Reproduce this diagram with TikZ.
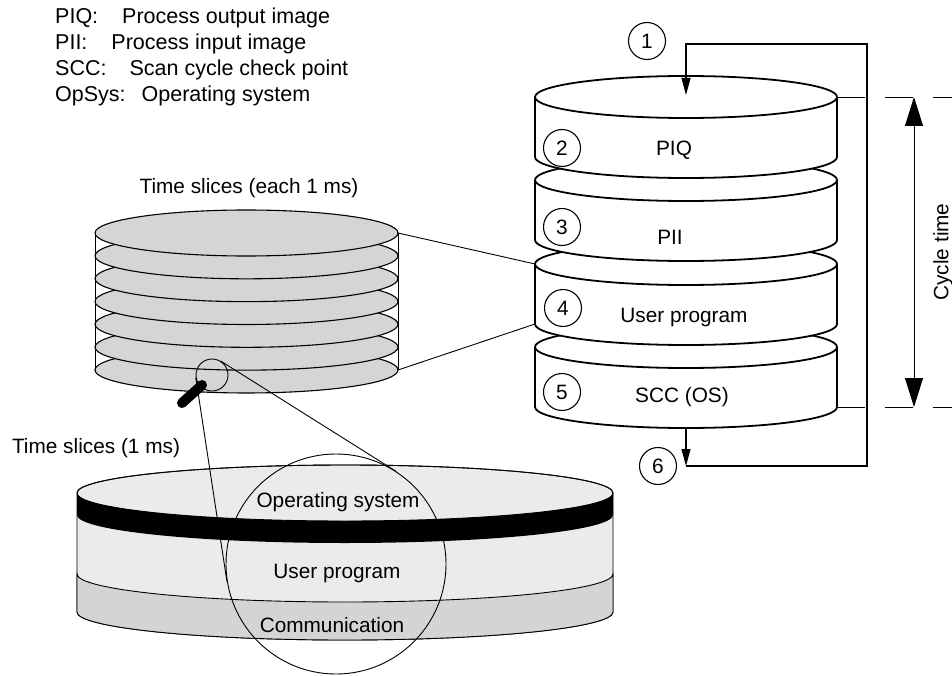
\documentclass[tikz,border=0pt]{standalone}
\usepackage{fontspec}
\setmainfont{Liberation Sans}
\usetikzlibrary{arrows.meta}

\definecolor{slicegray}{RGB}{212,213,215}
\definecolor{bodylight}{RGB}{235,235,237}
\definecolor{commgray}{RGB}{211,212,214}

% one white disk of the scan cycle: #1 = y of top centre, #2 = name
\newcommand{\scandisk}[2]{%
  \filldraw[disk] (535,#1) -- (535,{#1+60})
    arc[start angle=180, end angle=360, x radius=151pt, y radius=21pt]
    -- (837,#1)
    arc[start angle=0, end angle=180, x radius=151pt, y radius=21pt] -- cycle;
  \draw[disk] (535,#1) arc[start angle=180, end angle=360, x radius=151pt, y radius=21pt];
  \coordinate (#2-tl) at (535,#1);
  \coordinate (#2-bl) at (535,{#1+60});
  \coordinate (#2-tr) at (837,#1);
  \coordinate (#2-br) at (837,{#1+60});
  \coordinate (#2-top) at (686,{#1-2});
  \coordinate (#2-front) at (686,{#1+81});
}

\begin{document}
\begin{tikzpicture}[
  x=1pt, y=-1pt,
  every node/.style={font=\fontsize{20.8}{24}\selectfont, inner sep=0pt},
  legend/.style={anchor=west, text height=15pt, text depth=4pt, font=\fontsize{21.5}{24}\selectfont},
  num/.style={draw, circle, line width=1.1pt, minimum size=37pt},
  disk/.style={line width=1.8pt, fill=white},
  slice/.style={line width=1.1pt, fill=slicegray},
  layer/.style={line width=0.9pt},
  lens/.style={draw, circle, line width=0.9pt},
  link/.style={line width=0.9pt},
  arr/.style={line width=1.1pt, -{Triangle[length=17pt, width=9pt]}},
  dim/.style={line width=1pt, {Triangle[length=29pt, width=18pt]}-{Triangle[length=29pt, width=18pt]}}
]
\useasboundingbox (0,0) rectangle (952,676);

% legend
\node[legend] (lgpiq) at (55,18) {PIQ:\hspace{24pt}Process output image};
\node[legend] (lgpii) at (55,44) {PII:\hspace{24pt}Process input image};
\node[legend] (lgscc) at (55,70) {SCC:\hspace{23pt}Scan cycle check point};
\node[legend] (lgos)  at (55,96) {OpSys:\hspace{16pt}Operating system};

% scan cycle stack, drawn from the bottom up
\scandisk{347}{sccd}
\scandisk{264}{usrd}
\scandisk{180}{piid}
\scandisk{97}{piqd}

\node[num] (n2) at (562,148) {2};
\node[num] (n3) at (562,227) {3};
\node[num] (n4) at (563,308) {4};
\node[num] (n5) at (562,392) {5};
\node (piq) at (674,150) {PIQ};
\node (pii) at (670,237) {PII};
\node (usr) at (684,318) {User program};
\node (scc) at (682,397) {SCC (OS)};

% cycle loop
\coordinate (loopB) at (686,466);
\coordinate (loopBR) at (867,466);
\coordinate (loopTR) at (867,44);
\coordinate (loopT) at (686,44);
\node[num] (n1) at (647,41) {1};
\node[num] (n6) at (658,466) {6};
\draw[arr] (sccd-front) -- (loopB);
\draw[arr] (loopB) -- (loopBR) -- (loopTR) -- (loopT) -- (piqd-top);

% cycle time
\draw[link] (piqd-tr) -- (865,97) (885,97) -- (913,97) (933,97) -- (952,97);
\draw[link] (sccd-br) -- (865,407) (885,407) -- (913,407) (933,407) -- (952,407);
\coordinate (ctT) at (914,97);
\coordinate (ctB) at (914,407);
\draw[dim] (ctT) -- (ctB);
\node[rotate=90] (ct) at (943,252) {Cycle time};

% time slices stack
\node (tslab) at (249,188) {Time slices (each 1 ms)};
\foreach \i in {6,5,...,0}
  \filldraw[slice] (246.5,{233+\i*22.83}) ellipse[x radius=151.5pt, y radius=23pt];
\draw[link] (95,233) -- (95,370) (398,233) -- (398,370);
\coordinate (ts-tr) at (398,233);
\coordinate (ts-br) at (398,370);
\draw[link] (ts-tr) -- (usrd-tl);
\draw[link] (ts-br) -- (usrd-bl);

% one time slice
\node (onelab) at (96,448) {Time slices (1 ms)};
\filldraw[layer, fill=bodylight] (77,493) -- (77,612)
  arc[start angle=180, end angle=360, x radius=268pt, y radius=28pt]
  -- (613,493)
  arc[start angle=0, end angle=180, x radius=268pt, y radius=28pt] -- cycle;
\filldraw[layer, fill=commgray] (77,574) -- (77,612)
  arc[start angle=180, end angle=360, x radius=268pt, y radius=28pt]
  -- (613,574)
  arc[start angle=360, end angle=180, x radius=268pt, y radius=28pt] -- cycle;
\fill (77,493) -- (77,515)
  arc[start angle=180, end angle=360, x radius=268pt, y radius=28pt]
  -- (613,493)
  arc[start angle=360, end angle=180, x radius=268pt, y radius=28pt] -- cycle;
\draw[layer] (345,493) ellipse[x radius=268pt, y radius=28pt];

\node (os) at (338,502) {Operating system};
\node (up) at (337,573) {User program};
\node (com) at (332,625) {Communication};

% magnifier
\node[lens, minimum size=220pt] (lensbig) at (336,564) {};
\node[lens, minimum size=32pt] (lenssmall) at (212,375) {};
\draw[link] (lenssmall.57) -- (lensbig.57);
\draw[link] (lenssmall.189) -- (lensbig.189);
\coordinate (hdA) at (202,385);
\coordinate (hdB) at (182,403);
\draw[line width=10pt, line cap=round] (hdA) -- (hdB);
\end{tikzpicture}
\end{document}
